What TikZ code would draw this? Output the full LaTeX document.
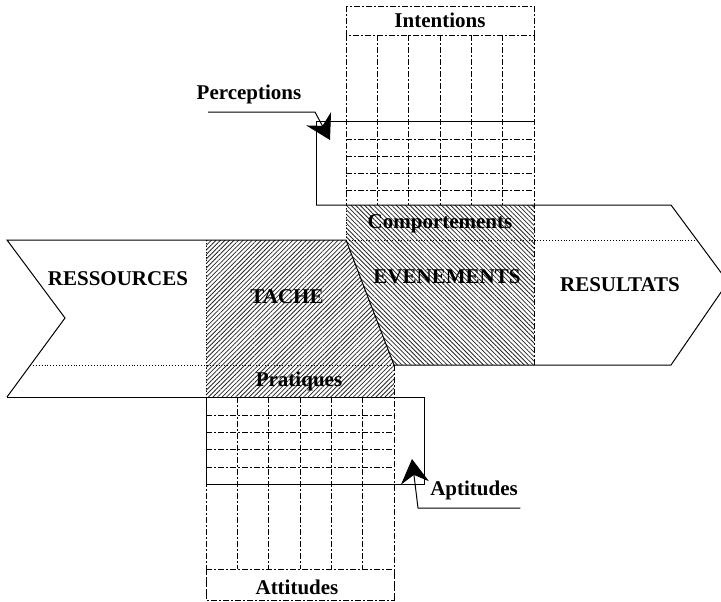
\documentclass[tikz,border=0pt]{standalone}
\usepackage{fontspec}
\setmainfont{Liberation Serif}
\usetikzlibrary{patterns.meta,arrows.meta}

\begin{document}
\begin{tikzpicture}[x=0.5pt,y=-0.5pt,line width=0.5pt,
  lbl/.style={font=\bfseries\fontsize{10.5}{12}\selectfont,inner sep=0pt},
  gridline/.style={line width=0.45pt,dash pattern=on 3pt off 1.2pt on 0.6pt off 1.2pt},
  bandline/.style={line width=0.45pt,densely dotted},
  hatchne/.style={pattern={Lines[angle=45,distance=1.6pt,line width=0.4pt]},pattern color=black!85},
  hatchnw/.style={pattern={Lines[angle=-45,distance=1.6pt,line width=0.4pt]},pattern color=black!85},
  callout/.style={line width=0.5pt,-{Stealth[length=12pt,width=14pt,inset=4pt]}}]
\useasboundingbox (0,0) rectangle (721,601);

% hatched areas
\fill[hatchne](206,240)--(346,240)--(394,365)--(394,397)--(206,397)--cycle;
\fill[hatchnw](346,205)--(534,205)--(534,365)--(394,365)--(346,240)--cycle;

% upper column : Intentions / Perceptions
\draw[gridline](346,6) rectangle (534,35);
\draw[gridline](346,35)--(346,205) (377.3,35)--(377.3,205) (408.7,35)--(408.7,205)
  (440,35)--(440,205) (471.3,35)--(471.3,205) (502.7,35)--(502.7,205) (534,35)--(534,365);
\draw[gridline](346,139)--(534,139) (346,156)--(534,156) (346,173)--(534,173) (346,190)--(534,190);
\draw(534,121)--(316,121)--(316,205);

% lower column : Aptitudes / Attitudes
\draw[gridline](206,397)--(206,600) (237.3,397)--(237.3,569) (268.7,397)--(268.7,569)
  (300,397)--(300,569) (331.3,397)--(331.3,569) (362.7,397)--(362.7,569) (394,365)--(394,600);
\draw[gridline](206,569) rectangle (394,600);
\draw[gridline](206,415)--(394,415) (206,432)--(394,432) (206,449)--(394,449) (206,467)--(394,467);
\draw(206,397)--(206,484)--(424,484)--(424,397);

% the two arrows
\draw(7,397)--(65,318)--(7,240)--(346,240)--(394,365)--(671,365)--(728,282)--(671,205)--(316,205);
\draw(7,397)--(424,397);
\draw[bandline](30,365)--(394,365);
\draw[bandline](346,240)--(698,240);
\draw[bandline](206,240)--(206,397);
\draw[bandline](346,205)--(346,240);

% texts
\node[lbl](intent) at (440,20) {Intentions};
\node[lbl](percep) at (249,94) {Perceptions};
\node[lbl](comport) at (440,224) {Comportements};
\node[lbl](ressour) at (118,279) {RESSOURCES};
\node[lbl](tache) at (287,297) {TACHE};
\node[lbl](evenem) at (447,277) {EVENEMENTS};
\node[lbl](result) at (620,285) {RESULTATS};
\node[lbl](pratiq) at (299,381) {Pratiques};
\node[lbl](aptit) at (474,490) {Aptitudes};
\node[lbl](attit) at (297,587) {Attitudes};

% callouts
\coordinate (percbend) at (315,112);
\coordinate (perctip) at (330,140);
\draw[callout]([xshift=6pt]percep.west |- percbend)--(percbend)--(perctip);
\coordinate (aptbend) at (418,508);
\coordinate (apttip) at (412,459);
\draw[callout]([xshift=1pt]aptit.east |- aptbend)--(aptbend)--(apttip);
\end{tikzpicture}
\end{document}
